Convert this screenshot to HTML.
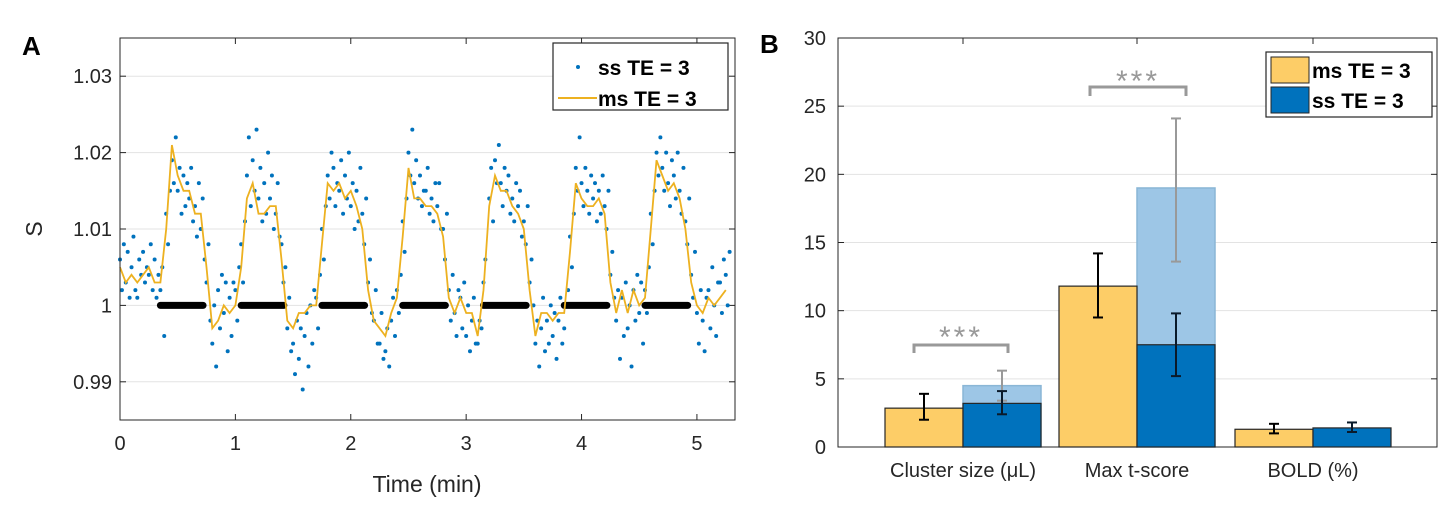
<!DOCTYPE html>
<html><head><meta charset="utf-8"><style>
body{margin:0;background:#fff;}
svg text{font-family:"Liberation Sans",sans-serif;}
</style></head><body>
<svg id="fig" width="1453" height="502" xmlns="http://www.w3.org/2000/svg">
</svg>
<script>
// ---------- Panel A data ----------
const lineT0 = 0, lineDt = 0.05;
const lineVals = [5,3,4,3,4,5,3,3,10,21,17,15,15,12,12,5,-3,-2,0,-1,0,5,14,16,12,12,13,13,6,-2,-3,-1,-1,0,0,8,16,15,16,14,15,13,10,2,-2,-3,-4,-1,1,9,18,14,14,13,13,12,9,1,-1,1,-1,-1,-4,2,13,17,15,15,13,12,10,2,-4,-1,-1,-2,-1,-1,7,16,14,13,13,14,12,3,-1,2,-1,2,0,1,10,19,17,15,16,14,10,3,0,-1,1,0,1,2];
const scatterVals = [6,2,8,3,7,1,5,9,2,1,6,4,7,3,5,4,8,2,6,1,4,2,5,-4,12,8,15,19,16,22,15,18,12,17,13,16,14,18,11,13,9,16,10,14,6,3,8,-2,-5,0,-8,2,-3,4,-1,3,-6,1,-4,3,2,-2,5,8,3,11,17,22,13,19,15,23,14,18,11,16,12,20,14,17,10,12,16,9,8,3,5,-3,1,-6,-5,-9,-2,-7,-3,-11,-4,-1,-8,0,-5,2,1,-3,4,10,6,13,17,14,20,18,13,16,15,19,12,17,14,20,13,16,10,15,11,18,12,8,14,3,6,-1,-2,2,-5,-5,-1,-7,-6,-3,-8,-2,1,-4,2,-1,4,11,7,14,20,17,23,16,19,14,17,13,15,15,18,12,14,11,16,13,16,10,10,6,12,2,-2,4,-1,-4,2,1,-3,3,-4,0,-6,-2,1,-5,-5,-2,-3,3,6,0,14,18,11,19,16,21,16,13,18,15,17,12,14,11,16,13,15,9,11,8,13,3,6,0,-5,-2,-8,-3,1,-6,-2,-5,0,-4,-1,-7,-2,1,-5,-3,0,2,9,5,12,18,15,22,16,13,18,15,12,17,14,16,11,15,12,17,13,10,15,4,7,1,-2,2,-7,1,-4,3,-3,0,-8,2,-2,4,-1,3,-5,2,-1,5,12,8,15,20,17,22,18,15,20,16,13,19,17,14,20,15,12,18,11,8,14,4,1,7,-1,-5,2,-2,-6,1,2,-3,5,0,-4,3,3,-1,6,4,0,7];
const restStarts = [0.35,1.05,1.75,2.45,3.15,3.85,4.55];
const restEnds   = [0.72,1.42,2.12,2.82,3.52,4.22,4.92];
const xTicksA = [0,1,2,3,4,5];
const yTicksA = [0.99,1,1.01,1.02,1.03];
const yTickLabelsA = ["0.99","1","1.01","1.02","1.03"];
// ---------- Panel B data ----------
const groups = ["Cluster size (\u03BCL)","Max t-score","BOLD (%)"];
const msVals = [2.85,11.8,1.3];
const msLo = [2.0,9.5,1.0];
const msHi = [3.9,14.2,1.7];
const ssVals = [3.2,7.5,1.4];
const ssLo = [2.4,5.2,1.1];
const ssHi = [4.1,9.8,1.8];
const ssLight = [4.5,19.0,null];
const ssLightLo = [3.4,13.6,null];
const ssLightHi = [5.6,24.1,null];
const yTicksB = [0,5,10,15,20,25,30];

const NS="http://www.w3.org/2000/svg";
const svg=document.getElementById('fig');
function mk(tag,attrs,parent){const e=document.createElementNS(NS,tag);for(const k in attrs)e.setAttribute(k,attrs[k]);(parent||svg).appendChild(e);return e;}

// ===== Panel A =====
const AL=120,AR=735,AT=38,AB=420;
const xA=t=>AL+(t-0)/(5.33)*(AR-AL);
const yA=v=>AB-(v-0.985)/0.05*(AB-AT);
const gA=mk('g',{});


mk('rect',{x:AL,y:AT,width:AR-AL,height:AB-AT,fill:'#fff'},gA);
yTicksA.forEach((v,i)=>{
  const gl=mk('line',{x1:AL,x2:AR,y1:yA(v),y2:yA(v),stroke:'#e3e3e3','stroke-width':1},gA);
  
  
  mk('line',{x1:AL,x2:AL+6,y1:yA(v),y2:yA(v),stroke:'#262626'},gA);
  mk('line',{x1:AR,x2:AR-6,y1:yA(v),y2:yA(v),stroke:'#262626'},gA);
  const t=mk('text',{x:AL-8,y:yA(v)+7,'text-anchor':'end','font-size':20,fill:'#262626'},gA);
  t.textContent=yTickLabelsA[i];
  
  
});
xTicksA.forEach(v=>{
  mk('line',{x1:xA(v),x2:xA(v),y1:AB,y2:AB-6,stroke:'#262626'},gA);
  mk('line',{x1:xA(v),x2:xA(v),y1:AT,y2:AT+6,stroke:'#262626'},gA);
  const t=mk('text',{x:xA(v),y:AB+30,'text-anchor':'middle','font-size':20,fill:'#262626'},gA);
  t.textContent=String(v);
  
  
});
// scatter
const n=scatterVals.length;
const sdt=lineDt*lineVals.length/n;
scatterVals.forEach((v,i)=>{
  const t=lineT0+i*sdt;
  if(t>5.33)return;
  const c=mk('circle',{cx:xA(t),cy:yA(1+v/1000),r:2,fill:'#0072bd'},gA);
  
  
});
// rest blocks
restStarts.forEach((s,i)=>{
  const l=mk('line',{x1:xA(s),x2:xA(restEnds[i]),y1:yA(1),y2:yA(1),stroke:'#000','stroke-width':7,'stroke-linecap':'round'},gA);
  
  
});
// line
const pts=lineVals.map((v,i)=>xA(lineT0+i*lineDt).toFixed(1)+','+yA(1+v/1000).toFixed(1)).join(' ');
const pl=mk('polyline',{points:pts,fill:'none',stroke:'#edb120','stroke-width':1.8},gA);


mk('rect',{x:AL,y:AT,width:AR-AL,height:AB-AT,fill:'none',stroke:'#262626','stroke-width':1},gA);
// legend A
const lgA=mk('g',{},gA);


mk('rect',{x:553,y:43,width:175,height:67,fill:'#fff',stroke:'#262626','stroke-width':1.2},lgA);
mk('circle',{cx:578,cy:67,r:2,fill:'#0072bd'},lgA);
let lt=mk('text',{x:598,y:75,'font-size':21,'font-weight':'bold',fill:'#000'},lgA);lt.textContent='ss TE = 3';
mk('line',{x1:558,x2:597,y1:98,y2:98,stroke:'#edb120','stroke-width':2},lgA);
lt=mk('text',{x:598,y:106,'font-size':21,'font-weight':'bold',fill:'#000'},lgA);lt.textContent='ms TE = 3';
let tx=mk('text',{x:427,y:492,'text-anchor':'middle','font-size':23,fill:'#262626'});tx.textContent='Time (min)';

tx=mk('text',{x:0,y:0,'text-anchor':'middle','font-size':23,fill:'#262626',transform:'translate(42,229) rotate(-90)'});tx.textContent='S';

tx=mk('text',{x:22,y:55,'font-size':26,'font-weight':'bold',fill:'#000'});tx.textContent='A';


// ===== Panel B =====
const BL=838,BR=1437,BT=38,BB=447;
const yB=v=>BB-v/30*(BB-BT);
const centers=[963,1137,1313], bw=78;
const gB=mk('g',{});


yTicksB.forEach(v=>{
  if(v>0&&v<30){const gl=mk('line',{x1:BL,x2:BR,y1:yB(v),y2:yB(v),stroke:'#e3e3e3'},gB);
  }
  mk('line',{x1:BL,x2:BL+6,y1:yB(v),y2:yB(v),stroke:'#262626'},gB);
  mk('line',{x1:BR,x2:BR-6,y1:yB(v),y2:yB(v),stroke:'#262626'},gB);
  const t=mk('text',{x:BL-12,y:yB(v)+7,'text-anchor':'end','font-size':20,fill:'#262626'},gB);
  t.textContent=String(v);
  
});
function errbar(x,lo,hi,col,name){
  const g=mk('g',{},gB);
  
  mk('line',{x1:x,x2:x,y1:yB(lo),y2:yB(hi),stroke:col,'stroke-width':2},g);
  mk('line',{x1:x-5,x2:x+5,y1:yB(lo),y2:yB(lo),stroke:col,'stroke-width':2},g);
  mk('line',{x1:x-5,x2:x+5,y1:yB(hi),y2:yB(hi),stroke:col,'stroke-width':2},g);
}
groups.forEach((g,i)=>{
  const c=centers[i];
  if(ssLight[i]!==null){
    const r=mk('rect',{x:c,y:yB(ssLight[i]),width:bw,height:yB(0)-yB(ssLight[i]),fill:'#9dc6e6',stroke:'#8ab6d6','stroke-width':1.5},gB);
    
    errbar(c+bw/2,ssLightLo[i],ssLightHi[i],'#999','ss-light-error');
  }
  let r=mk('rect',{x:c-bw,y:yB(msVals[i]),width:bw,height:yB(0)-yB(msVals[i]),fill:'#fdcd67',stroke:'#262626','stroke-width':1.2},gB);
  
  r=mk('rect',{x:c,y:yB(ssVals[i]),width:bw,height:yB(0)-yB(ssVals[i]),fill:'#0072bd',stroke:'#262626','stroke-width':1.2},gB);
  
  errbar(c-bw/2,msLo[i],msHi[i],'#000','ms-error');
  errbar(c+bw/2,ssLo[i],ssHi[i],'#0a1a2a','ss-error');
  mk('line',{x1:c,x2:c,y1:BB,y2:BB-6,stroke:'#262626'},gB);
  mk('line',{x1:c,x2:c,y1:BT,y2:BT+6,stroke:'#262626'},gB);
  const t=mk('text',{x:c,y:477,'text-anchor':'middle','font-size':20,fill:'#262626'},gB);
  t.textContent=g;
  
});
// significance brackets
[[914,1008,353,345,333],[1090,1186,96,87,77]].forEach(b=>{
  const g=mk('g',{},gB);
  
  mk('polyline',{points:`${b[0]},${b[2]} ${b[0]},${b[3]} ${b[1]},${b[3]} ${b[1]},${b[2]}`,fill:'none',stroke:'#999','stroke-width':3},g);
  const t=mk('text',{x:(b[0]+b[1])/2,y:b[4]+14,'text-anchor':'middle','font-size':30,fill:'#999','letter-spacing':'3'},g);
  t.textContent='***';
});
mk('rect',{x:BL,y:BT,width:BR-BL,height:BB-BT,fill:'none',stroke:'#262626','stroke-width':1},gB);
// legend B
const lgB=mk('g',{},gB);

mk('rect',{x:1266,y:52,width:166,height:65,fill:'#fff',stroke:'#262626','stroke-width':1.2},lgB);
mk('rect',{x:1271,y:57,width:38,height:26,fill:'#fdcd67',stroke:'#262626'},lgB);
mk('rect',{x:1271,y:87,width:38,height:26,fill:'#0072bd',stroke:'#262626'},lgB);
lt=mk('text',{x:1312,y:78,'font-size':21,'font-weight':'bold',fill:'#000'},lgB);lt.textContent='ms TE = 3';
lt=mk('text',{x:1312,y:108,'font-size':21,'font-weight':'bold',fill:'#000'},lgB);lt.textContent='ss TE = 3';
tx=mk('text',{x:760,y:53,'font-size':26,'font-weight':'bold',fill:'#000'});tx.textContent='B';

</script>
</body></html>
